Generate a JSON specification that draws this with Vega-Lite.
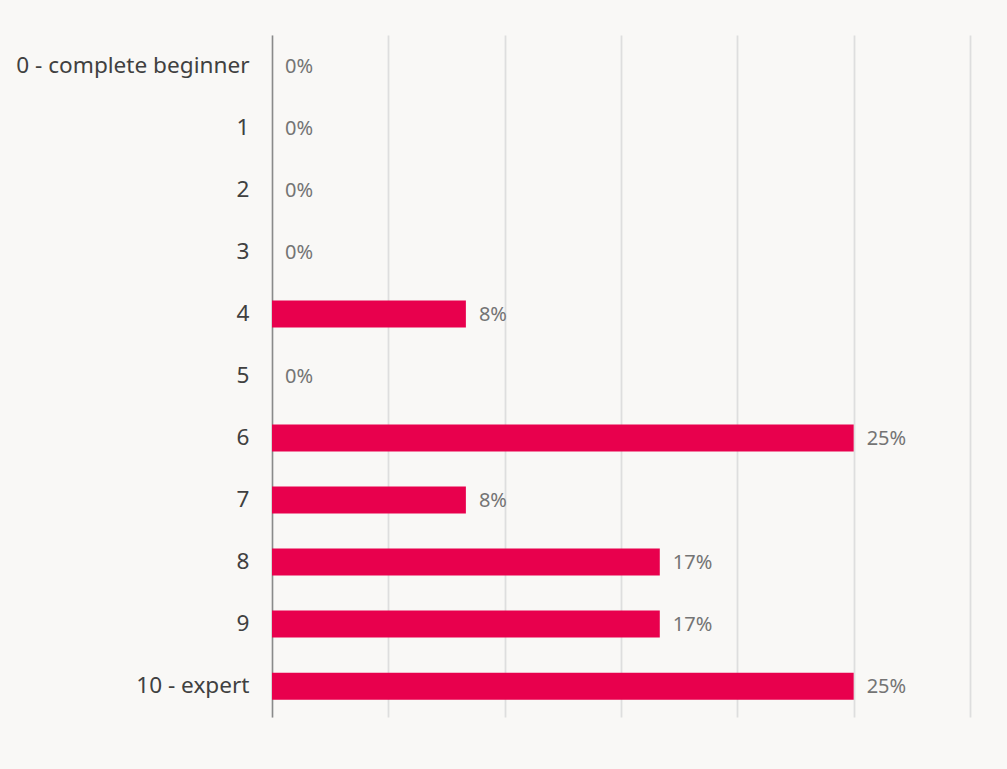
{
  "$schema": "https://vega.github.io/schema/vega-lite/v6.json",
  "autosize": {"type": "none"},
  "width": 698,
  "height": 682,
  "padding": {"left": 272, "top": 35, "right": 37, "bottom": 52},
  "background": "#f9f8f6",
  "config": {"view": {"stroke": null}, "font": "Noto Sans"},
  "data": {
    "values": [
      {"level": "0 - complete beginner", "pct": 0, "label": "0%"},
      {"level": "1", "pct": 0, "label": "0%"},
      {"level": "2", "pct": 0, "label": "0%"},
      {"level": "3", "pct": 0, "label": "0%"},
      {"level": "4", "pct": 8.333, "label": "8%"},
      {"level": "5", "pct": 0, "label": "0%"},
      {"level": "6", "pct": 25, "label": "25%"},
      {"level": "7", "pct": 8.333, "label": "8%"},
      {"level": "8", "pct": 16.667, "label": "17%"},
      {"level": "9", "pct": 16.667, "label": "17%"},
      {"level": "10 - expert", "pct": 25, "label": "25%"}
    ]
  },
  "encoding": {
    "y": {
      "field": "level",
      "type": "nominal",
      "sort": null,
      "scale": {"paddingInner": 0.565, "paddingOuter": 0.28},
      "axis": {
        "title": null,
        "ticks": false,
        "domainColor": "#8a8a8a",
        "domainWidth": 1.5,
        "labelFontSize": 22.6,
        "labelColor": "#404040",
        "labelPadding": 23,
        "labelLimit": 300,
        "labelFont": "Noto Sans"
      }
    },
    "x": {
      "field": "pct",
      "type": "quantitative",
      "scale": {"domain": [0, 30], "nice": false},
      "axis": {
        "title": null,
        "labels": false,
        "ticks": false,
        "domain": false,
        "values": [0, 5, 10, 15, 20, 25, 30],
        "gridColor": "#dedede",
        "gridWidth": 1.8
      }
    }
  },
  "layer": [
    {"mark": {"type": "bar", "color": "#e8004d"}},
    {
      "mark": {"type": "text", "align": "left", "baseline": "middle", "dx": 13, "dy": 1, "fontSize": 20, "color": "#747474", "font": "Noto Sans"},
      "encoding": {"text": {"field": "label"}}
    }
  ]
}
